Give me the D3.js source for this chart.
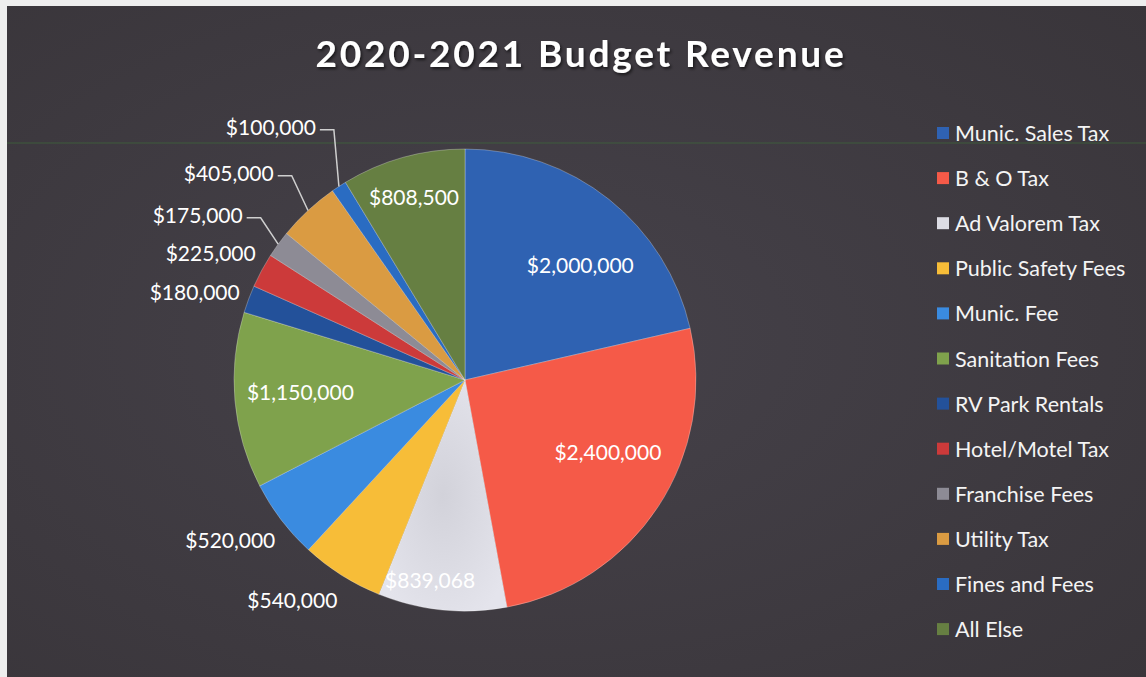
<!DOCTYPE html>
<html>
<head>
<meta charset="utf-8">
<script src="https://cdn.jsdelivr.net/npm/d3@7/dist/d3.min.js"></script>
<style>
  html, body { margin: 0; padding: 0; background: #ffffff; }
  svg { display: block; }
  text { font-family: Lato, "Open Sans", sans-serif; }
</style>
</head>
<body>
<svg id="chart" width="1146" height="677"></svg>
<script>
// ---- Data ----
const title = "2020-2021 Budget Revenue";
const categories = ["Munic. Sales Tax", "B & O Tax", "Ad Valorem Tax", "Public Safety Fees", "Munic. Fee",
  "Sanitation Fees", "RV Park Rentals", "Hotel/Motel Tax", "Franchise Fees", "Utility Tax", "Fines and Fees", "All Else"];
const values = [2000000, 2400000, 839068, 540000, 520000, 1150000, 180000, 225000, 175000, 405000, 100000, 808500];
const colors = ["#2f62b2", "#f55a48", "#d9d9e0", "#f7bd38", "#3a8be0", "#7fa24c",
  "#23519a", "#cc3a3a", "#8d8b95", "#da9b42", "#2a6cc2", "#667f42"];

// ---- Label layout (mode, angle offset in deg, radius in px) ----
const labelLayout = [
  {mode: "in", da: 6.5, r: 163},
  {mode: "in", da: -6.6, r: 160},
  {mode: "in", da: 4.2, r: 203},
  {mode: "out", da: -2.1, r: 254},
  {mode: "out", da: -2.8, r: 248},
  {mode: "in", da: 1.1, r: 165},
  {mode: "out", da: 0.9, r: 242},
  {mode: "out", da: 3.0, r: 245},
  {mode: "lead", da: 0.6, r: 277},
  {mode: "lead", da: 0.1, r: 282},
  {mode: "lead", da: 2.6, r: 294},
  {mode: "in", da: 0, r: 190}
];

const W = 1146, H = 677;
const svg = d3.select("#chart");
const defs = svg.append("defs");

// background gradient
const bg = defs.append("radialGradient").attr("id", "bg").attr("cx", "45%").attr("cy", "50%").attr("r", "75%");
bg.append("stop").attr("offset", "0%").attr("stop-color", "#46424a");
bg.append("stop").attr("offset", "100%").attr("stop-color", "#39353a");

const shadow = defs.append("filter").attr("id", "tshadow").attr("x", "-10%").attr("y", "-30%").attr("width", "120%").attr("height", "160%");
shadow.append("feDropShadow").attr("dx", 1.5).attr("dy", 2).attr("stdDeviation", 1.5).attr("flood-color", "#000").attr("flood-opacity", 0.6);

// Ad valorem light fill
const av = defs.append("radialGradient").attr("id", "avfill").attr("cx", "50%").attr("cy", "50%").attr("r", "60%");
av.append("stop").attr("offset", "0%").attr("stop-color", "#d2d2da");
av.append("stop").attr("offset", "100%").attr("stop-color", "#e4e4ec");

svg.append("rect").attr("width", W).attr("height", H).attr("fill", "#eeeeee");
svg.append("rect").attr("x", 7).attr("y", 6).attr("width", W - 7).attr("height", H - 6).attr("fill", "url(#bg)");
// faint scan line
svg.append("line").attr("x1", 7).attr("x2", W).attr("y1", 143).attr("y2", 143)
  .attr("stroke", "#3f6a3a").attr("stroke-width", 1).attr("opacity", 0.7);

// Title
svg.append("text").attr("x", 581).attr("y", 67).attr("text-anchor", "middle")
  .attr("font-size", 37).attr("font-weight", "bold").attr("fill", "#ffffff")
  .attr("filter", "url(#tshadow)").attr("letter-spacing", 2.8)
  .text(title);

// Pie
const cx = 465, cy = 380, R = 231;
const g = svg.append("g").attr("transform", `translate(${cx},${cy})`);
const pie = d3.pie().sort(null).value(d => d)(values);
const arc = d3.arc().innerRadius(0).outerRadius(R);
const fillOf = i => i === 2 ? "url(#avfill)" : colors[i];

g.selectAll("path.slice").data(pie).join("path")
  .attr("class", "slice")
  .attr("d", arc)
  .attr("fill", (d, i) => fillOf(i))
  .attr("stroke", "rgba(255,255,255,0.35)")
  .attr("stroke-width", 0.8);

const fmt = v => "$" + d3.format(",")(v);
const polar = (ang, r) => [r * Math.sin(ang), -r * Math.cos(ang)];
const deg = Math.PI / 180;

pie.forEach((d, i) => {
  const L = labelLayout[i];
  const mid = (d.startAngle + d.endAngle) / 2;
  const a = mid + L.da * deg;
  const [x, y] = polar(a, L.r);
  const t = g.append("text")
    .attr("x", x).attr("y", y)
    .attr("dominant-baseline", "central")
    .attr("font-size", 21)
    .attr("fill", "#ffffff")
    .text(fmt(values[i]));
  t.attr("text-anchor", L.mode === "in" ? "middle" : "end");
  if (L.mode === "lead") {
    const [ex, ey] = polar(mid, R);
    const sx = x + 4, sy = y + 3;
    g.append("path")
      .attr("d", `M${sx},${sy} H${sx + 14} L${ex},${ey}`)
      .attr("fill", "none")
      .attr("stroke", "#cfcfcf")
      .attr("stroke-width", 1.5);
  }
});

// Legend
const legend = svg.append("g").attr("transform", "translate(937,133)");
const step = 45.1;
categories.forEach((c, i) => {
  const row = legend.append("g").attr("transform", `translate(0,${i * step})`);
  row.append("rect").attr("x", 0).attr("y", -6).attr("width", 12).attr("height", 12)
    .attr("fill", i === 2 ? "#dcdce4" : colors[i]);
  row.append("text").attr("x", 18).attr("y", 0).attr("dominant-baseline", "central")
    .attr("font-size", 21.5).attr("fill", "#f4f4f4").text(c);
});
</script>
</body>
</html>
